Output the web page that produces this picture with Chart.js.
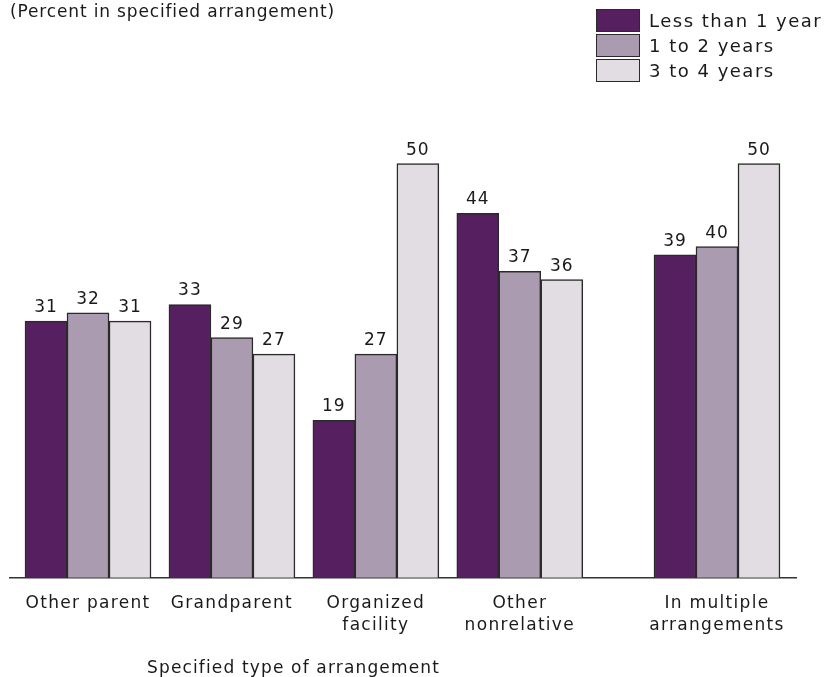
<!DOCTYPE html>
<html>
<head>
<meta charset="utf-8">
<style>
  body { margin: 0; background: #fff; font-family: "DejaVu Sans", sans-serif; color: #1a1a1a; }
  #wrap { position: relative; width: 825px; height: 677px; }
  #wrap canvas { position: absolute; left: 0; top: 0; }
  .note { position: absolute; font-size: 17px; white-space: nowrap; }
  #legend { position: absolute; left: 596px; top: 8px; }
  #legend div { height: 25px; display: flex; align-items: center; font-size: 18px; letter-spacing: 1.5px; white-space: nowrap; }
  #legend span.box { display: inline-block; width: 42px; height: 21px; border: 1.5px solid #2a2a2a; margin-right: 9px; }
</style>
</head>
<body>
<div id="wrap">
  <canvas id="chart" width="825" height="677"></canvas>
  <div class="note" style="left: 10px; top: 1px; letter-spacing: 0.85px;">(Percent in specified arrangement)</div>
  <div id="legend"></div>
  <div class="note" style="left: 147px; top: 657px; letter-spacing: 1.15px;">Specified type of arrangement</div>
</div>

<script src="https://cdn.jsdelivr.net/npm/chart.js"></script>
<script>
  // categories and where each group sits along the axis (last one is set apart)
  const categories = [['Other parent'], ['Grandparent'], ['Organized', 'facility'], ['Other', 'nonrelative'], ['In multiple', 'arrangements']];
  const groupPos = [0, 1, 2, 3, 4.37];

  const seriesNames = ['Less than 1 year', '1 to 2 years', '3 to 4 years'];
  const lessThan1 = [31, 33, 19, 44, 39];
  const oneTo2 = [32, 29, 27, 37, 40];
  const threeTo4 = [31, 27, 50, 36, 50];
  const colors = ['#561f5f', '#ab9bb1', '#e2dce3'];

  const seriesValues = [lessThan1, oneTo2, threeTo4];

  // html legend
  const legend = document.getElementById('legend');
  seriesNames.forEach((name, k) => {
    const row = document.createElement('div');
    row.innerHTML = '<span class="box" style="background:' + colors[k] + '"></span>' + name;
    legend.appendChild(row);
  });

  // wider letter spacing for the canvas text, like the original face
  const spacing = {
    id: 'spacing',
    beforeDraw(chart) { chart.ctx.letterSpacing = '1.3px'; }
  };

  const valueLabels = {
    id: 'valueLabels',
    afterDatasetsDraw(chart) {
      const ctx = chart.ctx;
      ctx.save();
      ctx.font = '17px "DejaVu Sans"';
      ctx.letterSpacing = '1px';
      ctx.fillStyle = '#1a1a1a';
      ctx.textAlign = 'center';
      ctx.textBaseline = 'alphabetic';
      chart.data.datasets.forEach((ds, i) => {
        chart.getDatasetMeta(i).data.forEach((bar, j) => {
          ctx.fillText(ds.data[j].y, bar.x, bar.y - 9);
        });
      });
      ctx.restore();
    }
  };

  const ctx = document.getElementById('chart').getContext('2d');
  window.grafico = new Chart(ctx, {
    type: 'bar',
    data: {
      datasets: seriesValues.map((vals, k) => ({
        label: seriesNames[k],
        data: vals.map((v, j) => ({ x: groupPos[j], y: v })),
        backgroundColor: colors[k],
        borderColor: '#2a2a2a',
        borderWidth: 1.5,
        barThickness: 42
      }))
    },
    options: {
      responsive: false,
      animation: false,
      layout: { padding: { left: 10, right: 29, top: 114, bottom: 33 } },
      plugins: { legend: { display: false }, tooltip: { enabled: false } },
      scales: {
        x: {
          type: 'linear',
          offset: false,
          min: -0.542,
          max: 4.919,
          grid: { display: false },
          border: { display: true, color: '#333', width: 1.5 },
          afterBuildTicks: (scale) => { scale.ticks = groupPos.map(v => ({ value: v })); },
          ticks: {
            autoSkip: false,
            maxRotation: 0,
            padding: 7,
            color: '#1a1a1a',
            font: { family: 'DejaVu Sans', size: 17, lineHeight: 1.3 },
            callback: (value, index) => categories[index]
          }
        },
        y: {
          display: false,
          min: 0,
          max: 56
        }
      }
    },
    plugins: [spacing, valueLabels]
  });
</script>
</body>
</html>
